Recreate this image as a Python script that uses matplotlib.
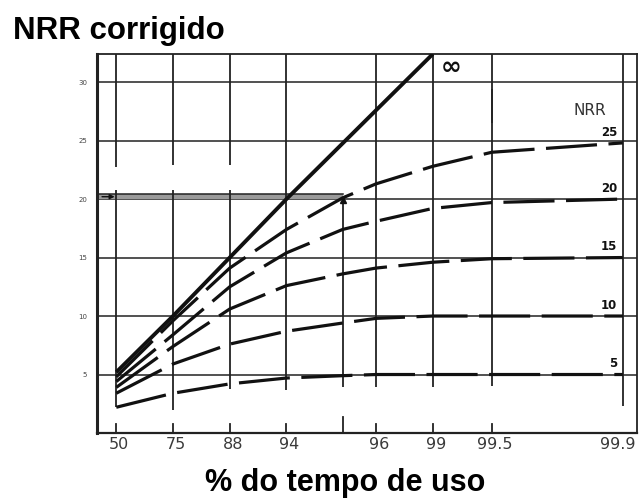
import matplotlib.pyplot as plt
from matplotlib.transforms import ScaledTranslation

# --- values ---
x_labels = ['50', '75', '88', '94', '', '96', '99', '99.5', '99.9']
y_ticks = [5, 10, 15, 20, 25, 30]

# the x scale is not linear, so each label gets its own slot
x_slots = [0, 1, 2, 3, 3.99, 4.58, 5.58, 6.62, 8.93]

inf_idx = [0, 1, 2, 3, 6]
nrr_inf = [5.2, 10.0, 15.0, 20.0, 32.4]
nrr25 = [4.8, 9.6, 14.1, 17.4, 20.1, 21.3, 22.8, 24.0, 24.8]
nrr20 = [4.4, 8.4, 12.5, 15.4, 17.4, 18.1, 19.2, 19.7, 20.0]
nrr15 = [3.9, 7.4, 10.6, 12.6, 13.6, 14.1, 14.6, 14.9, 15.0]
nrr10 = [3.4, 5.9, 7.6, 8.7, 9.4, 9.8, 10.0, 10.0, 10.0]
nrr5 = [2.2, 3.4, 4.2, 4.7, 4.9, 5.0, 5.0, 5.0, 5.0]
curve_names = ['25', '20', '15', '10', '5']
curves = [nrr25, nrr20, nrr15, nrr10, nrr5]

ink = '#111111'
grid_c = '#222222'

fig = plt.figure(figsize=(6.4, 4.98), dpi=100)
ax = fig.add_axes([97 / 640, 65 / 498, 540 / 640, 379 / 498])
ax.set_xlim(-0.34, 9.18)
ax.set_ylim(0, 32.4)

# --- grid ---
for y in y_ticks:
    ax.axhline(y, color=grid_c, lw=1.1, zorder=1)
# shaded double line at 20 up to the reading line
ax.fill_between([-0.34, 3.99], 20.0, 20.4, color='#9a9a9a', lw=0, zorder=1)
ax.plot([-0.34, 3.99], [20.4, 20.4], color=grid_c, lw=1.1, zorder=1)

# vertical lines are broken in the scan
v_segments = [
    (0, 22.7, 32.4), (0, 2.2, 20.8),
    (1, 22.9, 32.4), (1, 2.0, 20.8),
    (2, 22.9, 32.4), (2, 3.8, 20.8),
    (3, 3.7, 32.4),
    (3.99, 3.9, 20.1),
    (4.58, 3.9, 32.4),
    (5.58, 3.9, 32.4),
    (6.62, 26.5, 32.4), (6.62, 4.0, 29.4),
    (8.93, 2.3, 32.4),
]
for x, y0, y1 in v_segments:
    ax.plot([x, x], [y0, y1], color=grid_c, lw=1.3, zorder=1, solid_capstyle='butt')

# short ticks along the bottom
for x in x_slots[:-1]:
    ln = 1.4 if x == 3.99 else 0.75
    ax.plot([x, x], [0, ln], color=grid_c, lw=1.3, zorder=1)

# --- curves ---
ax.plot([x_slots[i] for i in inf_idx], nrr_inf, color=ink, lw=2.8,
        solid_capstyle='butt', zorder=3)
for vals in curves:
    ax.plot(x_slots, vals, color=ink, lw=2.3, dashes=(16, 3.6),
            dash_capstyle='butt', zorder=3)

# arrows at the reading
ax.annotate('', xy=(0.02, 20.2), xytext=(-0.3, 20.2),
            arrowprops=dict(arrowstyle='-|>', color=ink, lw=1, mutation_scale=7))
ax.plot([3.99], [19.9], marker='^', color=ink, ms=4, zorder=4)

# --- labels on the right ---
ax.text(5.72, 31.3, '\u221e', fontsize=18, fontweight='bold', color=ink,
        ha='left', va='center')
ax.text(8.35, 27.6, 'NRR', fontsize=11, color='#333333', ha='center', va='center')
for name, vals in zip(curve_names, curves):
    ax.text(8.83, vals[-1] + 0.35, name, fontsize=8.5, fontweight='bold',
            color=ink, ha='right', va='bottom')

# --- axes and ticks ---
ax.set_xticks(x_slots)
ax.set_xticklabels(x_labels, fontsize=11.5, color='#3a3a3a')
ax.set_yticks(y_ticks)
ax.set_yticklabels([str(v) for v in y_ticks], fontsize=5, color='#444444')
ax.tick_params(axis='x', length=0, pad=3)
ax.tick_params(axis='y', length=0, pad=7)
shift = ScaledTranslation(3 / 100, 0, fig.dpi_scale_trans)
xlabs = ax.get_xticklabels()
for lab in xlabs:
    lab.set_transform(lab.get_transform() + shift)
# last label sits against the right edge of the picture
xlabs[-1].set_horizontalalignment('right')
xlabs[-1].set_transform(xlabs[-1].get_transform()
                        + ScaledTranslation(10 / 100, 0, fig.dpi_scale_trans))

ax.spines['left'].set_linewidth(2.2)
ax.spines['bottom'].set_linewidth(1.6)
ax.spines['top'].set_linewidth(1.3)
ax.spines['right'].set_linewidth(1.3)
for s in ax.spines.values():
    s.set_color(grid_c)

fig.text(13 / 640, (498 - 39) / 498, 'NRR corrigido', fontsize=22.5,
         fontweight='bold', family='Liberation Sans', va='baseline', ha='left')
fig.text(345 / 640, (498 - 491) / 498, '% do tempo de uso', fontsize=22,
         fontweight='bold', family='Liberation Sans', va='baseline', ha='center')

fig.savefig('out.png', dpi=100)
